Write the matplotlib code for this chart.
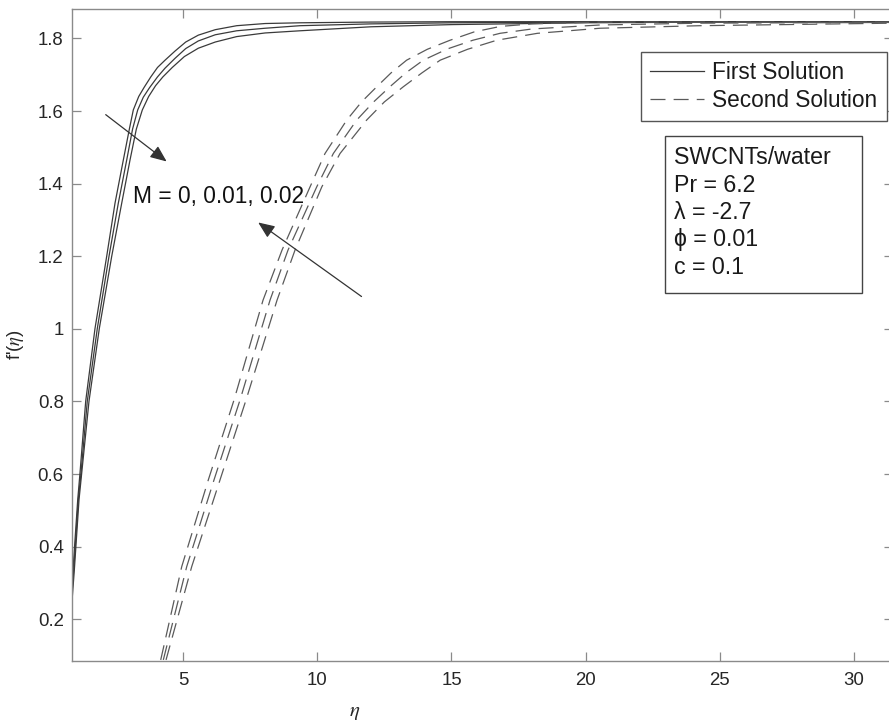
import matplotlib
matplotlib.use("Agg")
import matplotlib.pyplot as plt
from matplotlib.lines import Line2D
from matplotlib.patches import Rectangle

plt.rcParams['font.family'] = ['Liberation Sans', 'DejaVu Sans']
plt.rcParams['mathtext.fontset'] = 'stix'

# ---- data ----
M_values = ["0", "0.01", "0.02"]

# First solution (solid)
eta_first_M0 = [0.864, 0.95, 1.077, 1.162, 1.375, 1.721, 2.157, 2.466, 2.776, 3.0, 3.148, 3.35, 3.55, 3.80, 4.05, 4.33, 4.7, 5.1, 5.57, 6.2, 7.0, 8.06, 9.36, 12, 15, 31.45]
fp_first_M0 = [0.29, 0.39, 0.529, 0.603, 0.801, 1.001, 1.200, 1.346, 1.465, 1.55, 1.603, 1.64, 1.665, 1.694, 1.72, 1.740, 1.765, 1.79, 1.809, 1.824, 1.835, 1.841, 1.843, 1.845, 1.846, 1.846]

eta_first_M1 = [0.864, 0.95, 1.099, 1.200, 1.434, 1.807, 2.243, 2.589, 2.902, 3.12, 3.312, 3.52, 3.75, 4.05, 4.33, 4.7, 5.1, 5.57, 6.2, 7.0, 8.06, 9.36, 12, 15, 20, 31.45]
fp_first_M1 = [0.27, 0.36, 0.529, 0.603, 0.801, 1.001, 1.200, 1.346, 1.465, 1.55, 1.603, 1.638, 1.664, 1.694, 1.718, 1.745, 1.772, 1.793, 1.81, 1.821, 1.828, 1.835, 1.840, 1.843, 1.845, 1.846]

eta_first_M2 = [0.864, 0.95, 1.125, 1.226, 1.498, 1.882, 2.344, 2.716, 3.025, 3.26, 3.484, 3.72, 3.98, 4.25, 4.6, 5.05, 5.57, 6.2, 7.0, 8.06, 9.36, 12, 15, 20, 25, 31.45]
fp_first_M2 = [0.25, 0.335, 0.529, 0.603, 0.801, 1.001, 1.200, 1.346, 1.465, 1.55, 1.603, 1.64, 1.67, 1.694, 1.72, 1.75, 1.773, 1.79, 1.805, 1.815, 1.821, 1.832, 1.838, 1.843, 1.845, 1.846]

# Second solution (dashed)
eta_second_M0 = [4.367, 5.324, 6.379, 7.347, 8.503, 9.173, 10.17, 10.85, 11.84, 12.5, 13.21, 13.9, 14.58, 15.6, 16.69, 18.2, 20.54, 24.26, 31.45]
fp_second_M0 = [0.088, 0.345, 0.584, 0.804, 1.079, 1.217, 1.391, 1.483, 1.575, 1.625, 1.667, 1.705, 1.740, 1.77, 1.795, 1.814, 1.828, 1.835, 1.842]

eta_second_M1 = [4.266, 5.138, 6.155, 7.124, 8.241, 8.912, 9.981, 10.60, 11.47, 12.1, 12.71, 13.3, 13.95, 14.85, 15.80, 16.81, 18.0, 20.54, 24.26, 31.45]
fp_second_M1 = [0.088, 0.345, 0.584, 0.804, 1.079, 1.217, 1.391, 1.483, 1.575, 1.625, 1.667, 1.705, 1.740, 1.771, 1.795, 1.814, 1.826, 1.837, 1.842, 1.844]

eta_second_M2 = [4.169, 4.952, 5.943, 6.900, 7.981, 8.689, 9.732, 10.29, 11.10, 11.65, 12.22, 12.75, 13.33, 14.1, 14.95, 15.85, 16.82, 18.0, 20.54, 24.26, 31.45]
fp_second_M2 = [0.088, 0.345, 0.584, 0.804, 1.079, 1.217, 1.391, 1.483, 1.575, 1.625, 1.667, 1.705, 1.740, 1.77, 1.795, 1.818, 1.833, 1.840, 1.845, 1.845, 1.845]

x_ticks = [5, 10, 15, 20, 25, 30]
y_ticks = [0.2, 0.4, 0.6, 0.8, 1.0, 1.2, 1.4, 1.6, 1.8]
y_tick_labels = ["0.2", "0.4", "0.6", "0.8", "1", "1.2", "1.4", "1.6", "1.8"]
legend_labels = ["First Solution", "Second Solution"]
info_lines = ["SWCNTs/water", "Pr = 6.2", "\u03bb = -2.7", "\u03d5 = 0.01", "c = 0.1"]

# ---- figure ----
W, H = 889, 725
fig = plt.figure(figsize=(W / 100, H / 100), dpi=100)
ax_l, ax_r, ax_t, ax_b = 72, 893, 9, 661
ax = fig.add_axes([ax_l / W, 1 - ax_b / H, (ax_r - ax_l) / W, (ax_b - ax_t) / H])

solid_c = '#3a3a3a'
dash_c = '#5a5a5a'
for xs, ys in [(eta_first_M0, fp_first_M0), (eta_first_M1, fp_first_M1), (eta_first_M2, fp_first_M2)]:
    ax.plot(xs, ys, '-', color=solid_c, lw=0.9)
for xs, ys in [(eta_second_M0, fp_second_M0), (eta_second_M1, fp_second_M1), (eta_second_M2, fp_second_M2)]:
    ax.plot(xs, ys, color=dash_c, lw=0.9, dashes=(12, 6.5))

ax.set_xlim(0.864, 31.45)
ax.set_ylim(0.085, 1.881)
ax.set_xticks(x_ticks)
ax.set_xticklabels([str(t) for t in x_ticks])
ax.set_yticks(y_ticks)
ax.set_yticklabels(y_tick_labels)

spine_c = '#8a8a8a'
for s in ax.spines.values():
    s.set_color(spine_c)
    s.set_linewidth(1.0)
ax.tick_params(direction='in', top=True, right=True, length=6.5, width=0.9,
               color=spine_c, labelsize=13.4, labelcolor='#262626')
ax.tick_params(axis='x', pad=8)
ax.tick_params(axis='y', pad=6)

# axis labels (placed as in reference)
fig.text(355 / W, 1 - 712 / H, r'$\eta$', fontsize=15, ha='center', va='center', color='#262626')
fig.text(15 / W, 1 - 345 / H, r"f'($\eta$)", fontsize=13.4, rotation=90, ha='center', va='center', color='#262626')

# legend
handles = [Line2D([], [], color=solid_c, lw=0.9),
           Line2D([], [], color=dash_c, lw=0.9, dashes=(12, 6.5))]
leg = ax.legend(handles, legend_labels, loc='upper left',
                bbox_to_anchor=((640.7 - ax_l) / (ax_r - ax_l), (ax_b - 51.7) / (ax_b - ax_t)),
                borderaxespad=0, fontsize=16.3, handlelength=2.38, handletextpad=0.35,
                borderpad=0.42, labelspacing=0.21, fancybox=False, framealpha=1,
                edgecolor='#555555')
leg.get_frame().set_linewidth(1.0)
for t in leg.get_texts():
    t.set_color('#1a1a1a')

# info box
def axx(px):
    return (px - ax_l) / (ax_r - ax_l)

def axy(py):
    return (ax_b - py) / (ax_b - ax_t)

ax.add_patch(Rectangle((axx(665), axy(293.3)), axx(861.7) - axx(665), axy(135.7) - axy(293.3),
                       transform=ax.transAxes, facecolor='white', edgecolor='#444444', lw=1.0, zorder=5))
baselines = [164.0, 191.5, 219.0, 246.5, 273.5]
for txt, b in zip(info_lines, baselines):
    ax.text(axx(674), axy(b), txt, transform=ax.transAxes, fontsize=16.7, va='baseline', ha='left',
            color='#1a1a1a', zorder=6)

# annotation text and arrows
ax.text(axx(133.3), axy(203.3), "M = " + ", ".join(M_values), transform=ax.transAxes,
        fontsize=16.4, va='baseline', ha='left', color='#111111')
arrow_kw = dict(arrowstyle='-|>,head_length=1.0,head_width=0.42', color='#333333', lw=0.9,
                shrinkA=0, shrinkB=0)
ax.annotate('', xy=(4.39, 1.461), xytext=(2.12, 1.590), arrowprops=arrow_kw)
ax.annotate('', xy=(7.80, 1.293), xytext=(11.65, 1.089), arrowprops=arrow_kw)

fig.savefig('out.png', dpi=100)
